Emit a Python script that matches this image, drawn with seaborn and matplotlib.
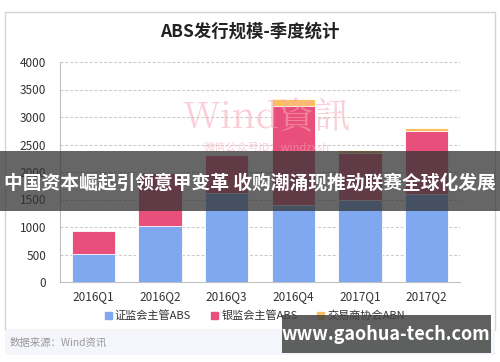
import matplotlib
matplotlib.use("Agg")
import matplotlib.pyplot as plt
import seaborn as sns
import pandas as pd
from matplotlib.patches import Rectangle

# quarterly ABS issuance
quarters = ["2016Q1", "2016Q2", "2016Q3", "2016Q4", "2017Q1", "2017Q2"]
csrc_abs = [516, 1018, 1615, 1395, 1498, 1607]
cbrc_abs = [411, 967, 690, 1805, 847, 1145]
nafmii_abn = [5, 15, 12, 122, 50, 48]
series_names = ["证监会主管ABS", "银监会主管ABS", "交易商协会ABN"]
yticks = [0, 500, 1000, 1500, 2000, 2500, 3000, 3500, 4000]

BLUE = "#7fa8f1"
PINK = "#e8507b"
ORANGE = "#fbbf5f"

sns.set_style("white")
plt.rcParams["font.family"] = ["Noto Sans CJK SC", "DejaVu Sans"]

df = pd.DataFrame({"q": quarters, "a": csrc_abs, "b": cbrc_abs, "c": nafmii_abn})
df["ab"] = df["a"] + df["b"]
df["abc"] = df["ab"] + df["c"]

W, H = 500, 362
fig = plt.figure(figsize=(W / 100, H / 100), dpi=100)

def fx(x):
    return x / W

def fy(y):
    return 1 - y / H

# card + footer (behind everything)
fig.patches.append(Rectangle((fx(5), fy(330)), fx(490), 318 / H, transform=fig.transFigure,
                             facecolor="white", edgecolor="#d4d4d4", lw=1, zorder=-5))
fig.patches.append(Rectangle((fx(5), fy(355)), fx(490), 25 / H, transform=fig.transFigure,
                             facecolor="#f5f6fc", edgecolor="none", zorder=-5))

ax = fig.add_axes([fx(60), fy(282), fx(400), 220 / H])
ax.set_facecolor("none")
ax.set_zorder(1)

kw = dict(width=0.65, edgecolor="white", linewidth=0.6, ax=ax, zorder=3)
sns.barplot(data=df, x="q", y="abc", color=ORANGE, saturation=1, **kw)
sns.barplot(data=df, x="q", y="ab", color=PINK, saturation=1, **kw)
sns.barplot(data=df, x="q", y="a", color=BLUE, saturation=1, **kw)

ax.set_ylim(0, 4000)
ax.set_yticks(yticks)
ax.set_xlim(-0.5, 5.5)
ax.set_xlabel("")
ax.set_ylabel("")
ax.yaxis.grid(True, color="#c8c8c8", linestyle=(0, (3, 2)), linewidth=0.7)
ax.set_axisbelow(True)
for s in ["top", "right"]:
    ax.spines[s].set_visible(False)
for s in ["left", "bottom"]:
    ax.spines[s].set_color("#c0c0c0")
    ax.spines[s].set_linewidth(0.8)
ax.tick_params(axis="both", length=0, labelsize=8.5, colors="#333333", pad=6)
ax.tick_params(axis="y", pad=10)

# legend
handles = [Rectangle((0, 0), 1, 1, color=c) for c in [BLUE, PINK, ORANGE]]
fig.legend(handles, series_names, loc="center", bbox_to_anchor=(fx(255), fy(316)), ncol=3,
           frameon=False, fontsize=8, handlelength=0.6, handleheight=0.6, handletextpad=0.3,
           columnspacing=1.8, labelcolor="#333333")

fig.text(fx(250), fy(32), "ABS发行规模-季度统计", ha="center", va="center",
         fontsize=12.5, fontweight="bold", color="#222222")
fig.text(fx(10), fy(343), "数据来源：Wind资讯", ha="left", va="center", fontsize=7.5, color="#999999")

# faint Wind watermark
fig.text(fx(267), fy(118), "Wind資訊", ha="center", va="center", fontsize=26,
         family=["Noto Serif CJK SC", "DejaVu Serif"], color="#f7a8b8", alpha=0.55, zorder=5)
fig.text(fx(267), fy(148), "微信公众号ID：windzxsh", ha="center", va="center", fontsize=8,
         color="#f7a8b8", alpha=0.55, zorder=5)

# overlay banner
fig.patches.append(Rectangle((0, fy(211)), 1, 60 / H, transform=fig.transFigure,
                             facecolor="#333333", alpha=0.75, edgecolor="none", zorder=10))
fig.text(0.5, fy(183), "中国资本崛起引领意甲变革 收购潮涌现推动联赛全球化发展", ha="center", va="center",
         fontsize=13.5, fontweight="bold", color="white", zorder=11)

# site stamp
fig.patches.append(Rectangle((fx(282), fy(353)), fx(209), 38 / H, transform=fig.transFigure,
                             facecolor="#444444", alpha=0.85, edgecolor="none", zorder=10))
fig.text(fx(386), fy(335), "www.gaohua-tech.com", ha="center", va="center",
         fontsize=13, fontweight="bold", color="white", zorder=11)

fig.savefig("out.png", dpi=100)
